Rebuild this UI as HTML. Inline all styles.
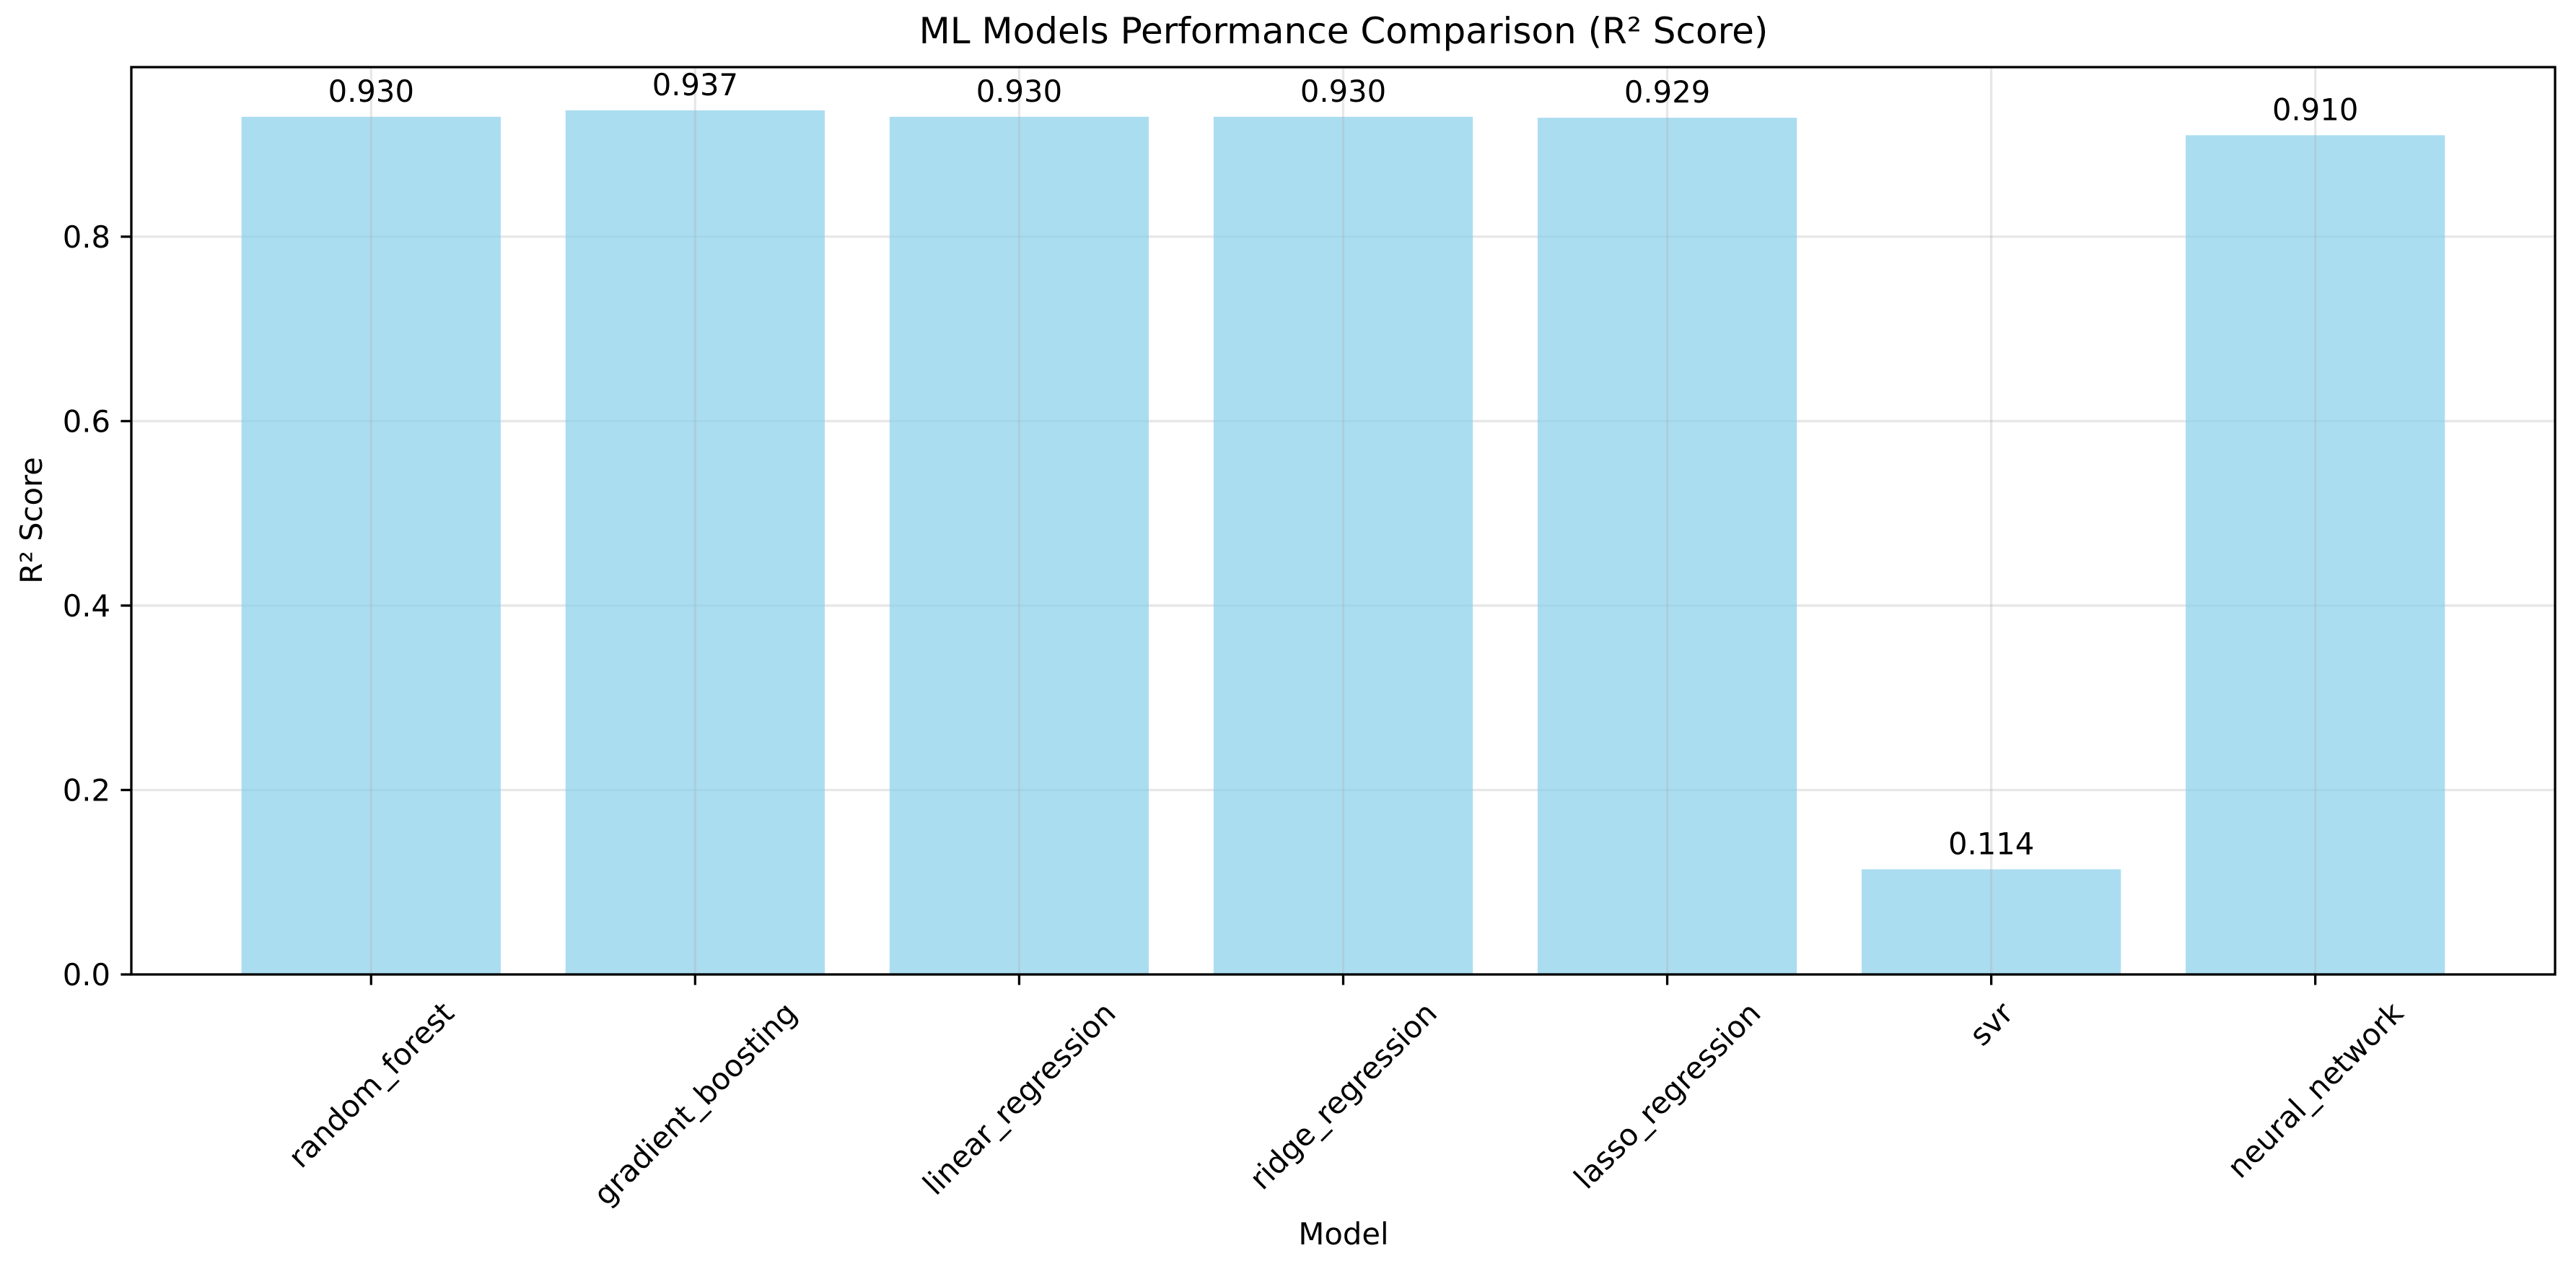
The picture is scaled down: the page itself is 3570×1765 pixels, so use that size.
<!DOCTYPE html>
<html><head><meta charset="utf-8"><style>
html,body{margin:0;padding:0;background:#fff;}
svg{display:block;font-family:"DejaVu Sans","Liberation Sans",sans-serif;}
</style></head><body>
<svg id="chart" width="3570" height="1765" viewBox="0 0 3570 1765" xmlns="http://www.w3.org/2000/svg">
<rect width="3570" height="1765" fill="#fff"/>
<text x="1862" y="60" font-size="50" text-anchor="middle" fill="#000">ML Models Performance Comparison (R² Score)</text>
<g id="grid"></g>
<g id="bars"></g>
<g id="vgrid"></g>
<g id="labels"></g>
<rect x="182" y="93" width="3359" height="1257" fill="none" stroke="#000" stroke-width="3.3"/>
<g id="yticks"></g>
<g id="xticks"></g>
<text x="1862" y="1724" font-size="41.7" text-anchor="middle">Model</text>
<text transform="translate(58,721) rotate(-90)" font-size="41.7" text-anchor="middle">R² Score</text>
</svg>
<script>
const categories = ["random_forest","gradient_boosting","linear_regression","ridge_regression","lasso_regression","svr","neural_network"];
const values = [0.930,0.937,0.930,0.930,0.929,0.114,0.910];
const yTicks = [0.0,0.2,0.4,0.6,0.8];
const yTickLabels = ["0.0","0.2","0.4","0.6","0.8"];

const NS="http://www.w3.org/2000/svg";
const L=182,R=3541,T=93,B=1350;
const n=categories.length;
const xmin=-0.4-0.05*(n-1+0.8), xmax=n-1+0.4+0.05*(n-1+0.8);
const ymax=Math.max(...values)*1.05;
const xs=v=>L+(v-xmin)/(xmax-xmin)*(R-L);
const ys=v=>B-v/ymax*(B-T);
function mk(tag,attrs,parent){const e=document.createElementNS(NS,tag);for(const k in attrs)e.setAttribute(k,attrs[k]);parent.appendChild(e);return e;}
const g=id=>document.getElementById(id);

yTicks.forEach((t,i)=>{
  const y=ys(t);
  const gl=mk('line',{x1:L,x2:R,y1:y,y2:y,stroke:'#b0b0b0','stroke-opacity':0.3,'stroke-width':3.3},g('grid'));
  
  
  const tk=mk('line',{x1:L-14.6,x2:L,y1:y,y2:y,stroke:'#000','stroke-width':3.3},g('yticks'));
  
  
  const tx=mk('text',{x:L-29,y:y+15,'font-size':41.7,'text-anchor':'end'},g('yticks'));
  tx.textContent=yTickLabels[i];
  
  
});

categories.forEach((c,i)=>{
  const cx=xs(i), x0=xs(i-0.4), x1=xs(i+0.4), y=ys(values[i]);
  const b=mk('rect',{x:x0,y:y,width:x1-x0,height:B-y,fill:'#87ceeb','fill-opacity':0.7},g('bars'));
  
  
  const vg=mk('line',{x1:cx,x2:cx,y1:T,y2:B,stroke:'#b0b0b0','stroke-opacity':0.3,'stroke-width':3.3},g('vgrid'));
  
  
  const lb=mk('text',{x:cx,y:y-21,'font-size':41.7,'text-anchor':'middle'},g('labels'));
  lb.textContent=values[i].toFixed(3);
  
  
  const tk=mk('line',{x1:cx,x2:cx,y1:B,y2:B+14.6,stroke:'#000','stroke-width':3.3},g('xticks'));
  
  
  const tx=mk('text',{x:0,y:0,'font-size':41.7,'text-anchor':'middle','dominant-baseline':'central'},g('xticks'));
  tx.textContent=c;
  
  
  const w=tx.getComputedTextLength(), h=48;
  const half=(w+h)/(2*Math.SQRT2);
  tx.setAttribute('transform','translate('+cx+','+(B+29+half)+') rotate(-45)');
});
</script>
</body></html>
